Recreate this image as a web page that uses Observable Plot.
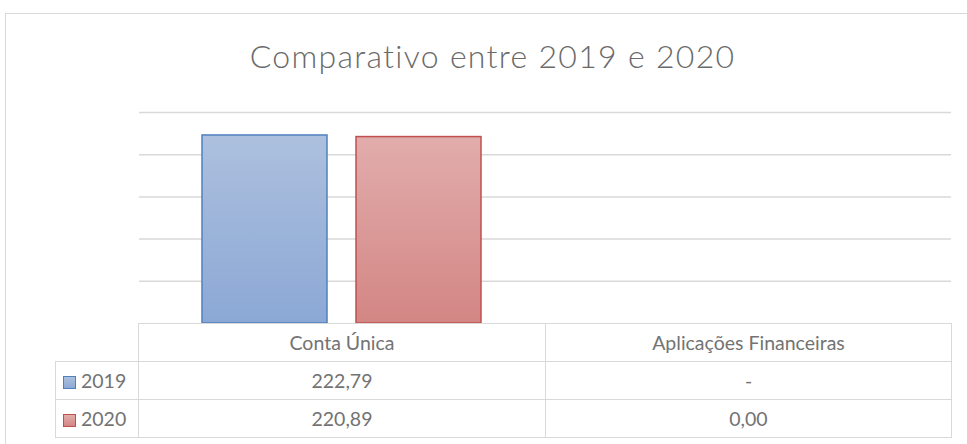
<!DOCTYPE html>
<html>
<head>
<meta charset="utf-8">
<script src="https://cdn.jsdelivr.net/npm/d3@7"></script>
<script src="https://cdn.jsdelivr.net/npm/@observablehq/plot@0.6"></script>
<style>
  html, body { margin: 0; padding: 0; background: #fff; }
  body { width: 967px; height: 444px; overflow: hidden; position: relative; font-family: Lato, "Open Sans", sans-serif; color: #666; }
  #frame { position: absolute; left: 5px; top: 13px; width: 1100px; height: 600px; border: 1px solid #d9d9d9; box-sizing: border-box; }
  #title { position: absolute; left: 0; width: 985px; top: 40px; text-align: center; font-size: 32px; line-height: 32px; letter-spacing: 1.3px; color: #6a6a6a; white-space: nowrap; font-weight: 300; }
  #chart { position: absolute; left: 0; top: 100px; }
  #tbl { position: absolute; left: 55px; top: 323px; border-collapse: collapse; table-layout: fixed; font-size: 19.5px; color: #737373; font-weight: 400; }
  #tbl td { border: 1px solid #d9d9d9; text-align: center; vertical-align: middle; padding: 0; height: 37px; white-space: nowrap; }
  #tbl td.blank { border-top: none; border-left: none; }
  #tbl td.lab { text-align: left; padding-left: 7px; }
  .key { display: inline-block; width: 13px; height: 13px; box-sizing: border-box; margin-right: 5px; vertical-align: -1px; }
</style>
</head>
<body>
<div id="frame"></div>
<div id="title"></div>
<div id="chart"></div>
<table id="tbl"></table>
<script>
const title = "Comparativo entre 2019 e 2020";
const categories = ["Conta Única", "Aplicações Financeiras"];
const years = ["2019", "2020"];
const values2019 = [222.79, null];
const values2020 = [220.89, 0.00];
const yTicks = [50, 100, 150, 200, 250];
const seriesColors = {
  "2019": {stroke: "#4f81bd", top: "#adc0de", bottom: "#8ba8d5"},
  "2020": {stroke: "#c0504d", top: "#e1adac", bottom: "#d38684"}
};

const seriesValues = {"2019": values2019, "2020": values2020};
const data = [];
for (const yr of years) {
  categories.forEach((c, i) => data.push({category: c, year: yr, value: seriesValues[yr][i]}));
}

document.getElementById("title").textContent = title;

const marks = [
  Plot.ruleY(yTicks, {stroke: "#d9d9d9", strokeWidth: 1.5})
];
for (const yr of years) {
  marks.push(Plot.barY(data.filter(d => d.year === yr), {
    fx: "category",
    x: "year",
    y: d => (d.value ? d.value : NaN),
    fill: `url(#grad${yr})`,
    stroke: seriesColors[yr].stroke,
    strokeWidth: 1.5
  }));
}

const svg = Plot.plot({
  width: 967,
  height: 224,
  marginTop: 12,
  marginBottom: 1,
  marginLeft: 138,
  marginRight: 16,
  fx: {domain: categories, padding: 0, axis: null},
  x: {domain: years, paddingInner: 0.187, paddingOuter: 0.406, axis: null},
  y: {domain: [0, 250], axis: null},
  marks
});

const defs = d3.select(svg).insert("defs", ":first-child");
for (const yr of years) {
  const g = defs.append("linearGradient").attr("id", "grad" + yr)
    .attr("x1", 0).attr("y1", 0).attr("x2", 0).attr("y2", 1);
  g.append("stop").attr("offset", "0%").attr("stop-color", seriesColors[yr].top);
  g.append("stop").attr("offset", "100%").attr("stop-color", seriesColors[yr].bottom);
}
document.getElementById("chart").appendChild(svg);

// data table
const fmt = v => v === null ? "-" : v.toFixed(2).replace(".", ",");
const tbl = document.getElementById("tbl");
const colgroup = document.createElement("colgroup");
[83, 407, 406].forEach(w => { const c = document.createElement("col"); c.style.width = w + "px"; colgroup.appendChild(c); });
tbl.appendChild(colgroup);
const head = tbl.insertRow();
const blank = head.insertCell(); blank.className = "blank";
categories.forEach(c => { head.insertCell().textContent = c; });
for (const yr of years) {
  const row = tbl.insertRow();
  const lab = row.insertCell(); lab.className = "lab";
  const key = document.createElement("span"); key.className = "key";
  key.style.border = `1px solid ${seriesColors[yr].stroke}`;
  key.style.background = `linear-gradient(${seriesColors[yr].top}, ${seriesColors[yr].bottom})`;
  lab.appendChild(key);
  lab.appendChild(document.createTextNode(yr));
  seriesValues[yr].forEach(v => { row.insertCell().textContent = fmt(v); });
}
</script>
</body>
</html>
